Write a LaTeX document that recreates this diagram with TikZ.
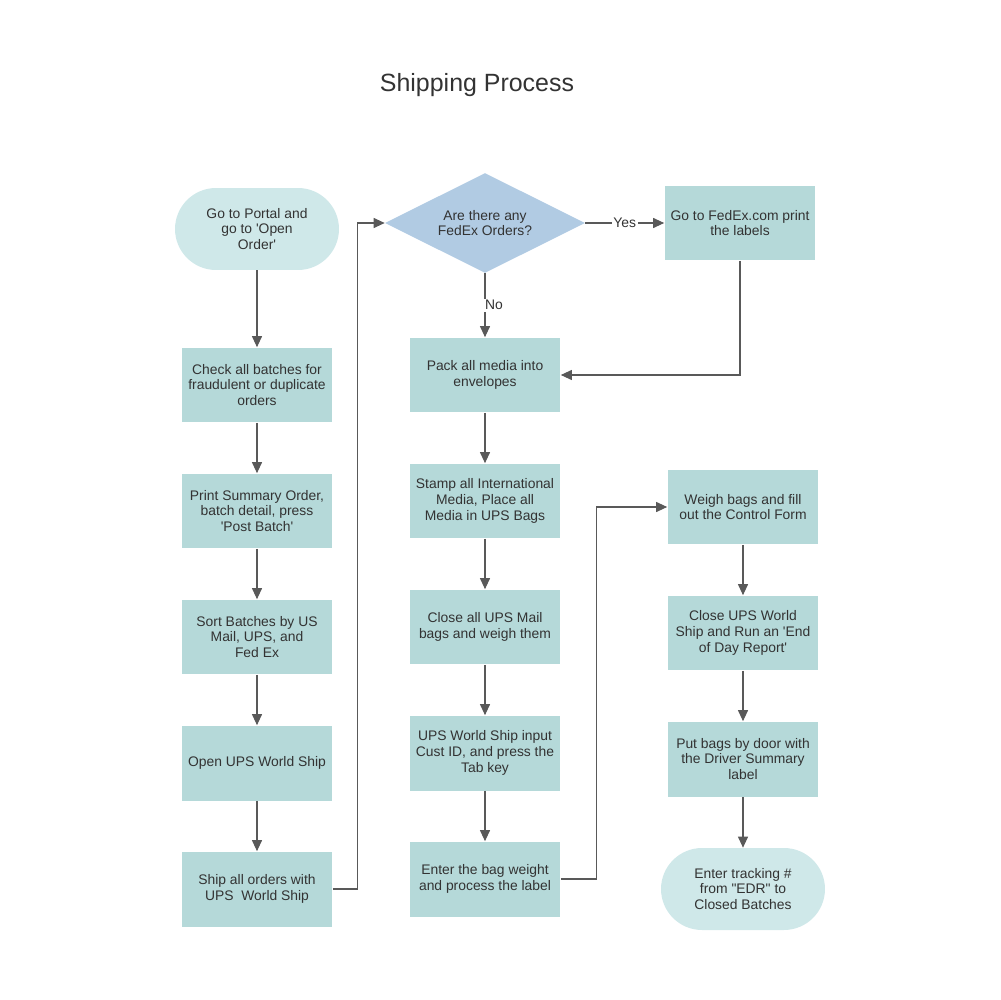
\documentclass[tikz,border=0pt]{standalone}
\usepackage{fontspec}
\setmainfont{Liberation Sans}
\usetikzlibrary{shapes.geometric,arrows.meta}
\definecolor{boxfill}{HTML}{B5D9D9}
\definecolor{termfill}{HTML}{CFE8E9}
\definecolor{decfill}{HTML}{B1CBE3}
\definecolor{txtgray}{HTML}{333333}
\definecolor{wire}{HTML}{595959}
\newcommand{\sq}{\textquotesingle}

\begin{document}
\begin{tikzpicture}[
  x=0.02cm, y=-0.02cm,
  every node/.style = {align=center, text=txtgray, font=\fontsize{7.9}{8.9}\selectfont},
  process/.style = {rectangle, fill=boxfill, minimum width=3.02cm, minimum height=1.5cm, inner sep=0pt},
  terminal/.style = {rectangle, rounded corners=0.82cm, fill=termfill, minimum width=3.28cm, minimum height=1.64cm, inner sep=0pt},
  decision/.style = {diamond, aspect=2, fill=decfill, minimum width=4cm, minimum height=2cm, inner sep=0pt},
  flow/.style = {draw=wire, line width=0.6pt, -{Triangle[length=0.22cm, width=0.2cm]}},
  tag/.style = {fill=white, inner sep=1pt}
]
  \useasboundingbox (0,0) rectangle (1000,1000);
  \node[font=\fontsize{14.2}{17}\selectfont] (title) at (477,85) {Shipping Process};

  % first column
  \node[terminal] (start) at (257,229) {Go to Portal and\\go to \sq Open\\Order\sq};
  \node[process] (check) at (257,385) {Check all batches for\\fraudulent or duplicate\\orders};
  \node[process] (print) at (257,511) {Print Summary Order,\\batch detail, press\\\sq Post Batch\sq};
  \node[process] (sort) at (257,637) {Sort Batches by US\\Mail, UPS, and\\Fed Ex};
  \node[process] (openups) at (257,763) {Open UPS World Ship};
  \node[process] (ship) at (257,889) {Ship all orders with\\UPS\ \ World Ship};

  % second column
  \node[decision] (fedexq) at (485,223) {Are there any\\FedEx Orders?};
  \node[process] (pack) at (485,375) {Pack all media into\\envelopes};
  \node[process] (stamp) at (485,501) {Stamp all International\\Media, Place all\\Media in UPS Bags};
  \node[process] (closebags) at (485,627) {Close all UPS Mail\\bags and weigh them};
  \node[process] (input) at (485,753) {UPS World Ship input\\Cust ID, and press the\\Tab key};
  \node[process] (weight) at (485,879) {Enter the bag weight\\and process the label};

  % third column
  \node[process] (fedex) at (740,223) {Go to FedEx.com print\\the labels};
  \node[process] (weigh) at (743,507) {Weigh bags and fill\\out the Control Form};
  \node[process] (closeups) at (743,633) {Close UPS World\\Ship and Run an \sq End\\of Day Report\sq};
  \node[process] (putbags) at (743,759) {Put bags by door with\\the Driver Summary\\label};
  \node[terminal] (finish) at (743,889) {Enter tracking \#\\from \textquotedbl EDR\textquotedbl\ to\\Closed Batches};

  \draw[flow] (start) -- (check);
  \draw[flow] (check) -- (print);
  \draw[flow] (print) -- (sort);
  \draw[flow] (sort) -- (openups);
  \draw[flow] (openups) -- (ship);
  \draw[flow] (ship.east) -- ++(25,0) |- (fedexq.west);
  \draw[flow] (fedexq.east) -- node[tag] {Yes} (fedex.west);
  \draw[flow] (fedexq.south) -- node[tag, xshift=0.18cm] {No} (pack.north);
  \draw[flow] (fedex.south) |- (pack.east);
  \draw[flow] (pack) -- (stamp);
  \draw[flow] (stamp) -- (closebags);
  \draw[flow] (closebags) -- (input);
  \draw[flow] (input) -- (weight);
  \draw[flow] (weight.east) -- ++(36,0) |- (weigh.west);
  \draw[flow] (weigh) -- (closeups);
  \draw[flow] (closeups) -- (putbags);
  \draw[flow] (putbags) -- (finish);
\end{tikzpicture}
\end{document}
